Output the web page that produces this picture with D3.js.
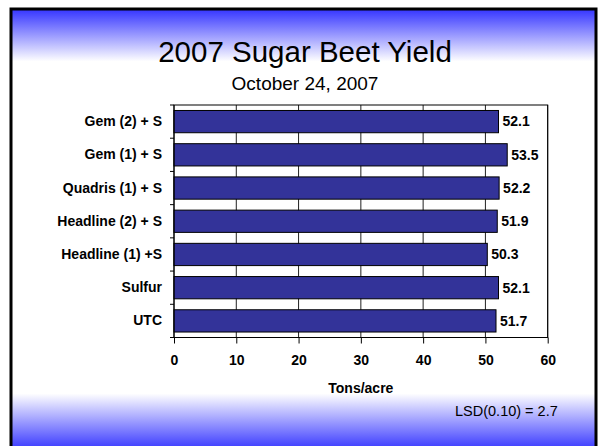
<!DOCTYPE html>
<html>
<head>
<meta charset="utf-8">
<script src="https://cdn.jsdelivr.net/npm/d3@7"></script>
<style>
  body { margin: 0; background: #fff; }
  svg { display: block; font-family: Arial, "Liberation Sans", sans-serif; }
  .axis path { display: none; }
  .axis text { font-size: 14px; font-weight: bold; fill: #000; font-family: Arial, "Liberation Sans", sans-serif; }
</style>
</head>
<body>
<svg id="chart"></svg>
<script>
const categories = ["Gem (2) + S", "Gem (1) + S", "Quadris (1) + S", "Headline (2) + S", "Headline (1) +S", "Sulfur", "UTC"];
const yieldValues = [52.1, 53.5, 52.2, 51.9, 50.3, 52.1, 51.7];
const xTicks = [0, 10, 20, 30, 40, 50, 60];

const settings = {
  width: 600,
  height: 446,
  left: 174,
  right: 547.7,
  top: 105,
  bottom: 337.5,
  barFrac: 0.67
};

const svg = d3.select("#chart")
  .attr("width", settings.width)
  .attr("height", settings.height);

// slide background with blue gradient top and bottom
const grad = svg.append("defs").append("linearGradient")
  .attr("id", "bg")
  .attr("gradientUnits", "userSpaceOnUse")
  .attr("x1", 0).attr("x2", 0)
  .attr("y1", 9).attr("y2", 446);
grad.append("stop").attr("offset", 0).attr("stop-color", "#3434ff");
grad.append("stop").attr("offset", 0.12).attr("stop-color", "#ffffff");
grad.append("stop").attr("offset", 0.88).attr("stop-color", "#ffffff");
grad.append("stop").attr("offset", 1).attr("stop-color", "#4444ff");

svg.append("rect")
  .attr("x", 11).attr("y", 9)
  .attr("width", 585).attr("height", 470)
  .attr("fill", "url(#bg)")
  .attr("stroke", "#000")
  .attr("stroke-width", 3);

// titles
svg.append("text")
  .attr("x", 305).attr("y", 62)
  .attr("text-anchor", "middle")
  .attr("font-size", 29.5)
  .text("2007 Sugar Beet Yield");

svg.append("text")
  .attr("x", 305).attr("y", 90)
  .attr("text-anchor", "middle")
  .attr("font-size", 19)
  .text("October 24, 2007");

const x = d3.scaleLinear().domain([0, 60]).range([settings.left, settings.right]);
const y = d3.scaleBand().domain(categories).range([settings.top, settings.bottom]).padding(0);

// plot area
svg.append("rect")
  .attr("x", settings.left).attr("y", settings.top)
  .attr("width", settings.right - settings.left)
  .attr("height", settings.bottom - settings.top)
  .attr("fill", "#fff");

// vertical gridlines
svg.append("g")
  .selectAll("line")
  .data(xTicks.slice(1))
  .join("line")
  .attr("x1", d => x(d)).attr("x2", d => x(d))
  .attr("y1", settings.top).attr("y2", settings.bottom)
  .attr("stroke", "#222")
  .attr("stroke-width", 1);

// plot border
svg.append("rect")
  .attr("x", settings.left).attr("y", settings.top)
  .attr("width", settings.right - settings.left)
  .attr("height", settings.bottom - settings.top)
  .attr("fill", "none")
  .attr("stroke", "#000")
  .attr("stroke-width", 1);

// bars
const barH = y.step() * settings.barFrac;
const bars = svg.append("g")
  .selectAll("g")
  .data(categories.map((c, i) => ({ name: c, value: yieldValues[i] })))
  .join("g")
  .attr("transform", d => `translate(0,${y(d.name) + (y.step() - barH) / 2})`);

bars.append("rect")
  .attr("x", x(0))
  .attr("width", d => x(d.value) - x(0))
  .attr("height", barH)
  .attr("fill", "#333399")
  .attr("stroke", "#000")
  .attr("stroke-width", 1);

bars.append("text")
  .attr("x", d => x(d.value) + 4)
  .attr("y", barH / 2)
  .attr("dy", "0.35em")
  .attr("font-size", 14)
  .attr("font-weight", "bold")
  .text(d => d.value.toFixed(1));

// x axis
svg.append("g")
  .attr("class", "axis")
  .attr("transform", `translate(0,${settings.bottom})`)
  .call(d3.axisBottom(x).tickValues(xTicks).tickSize(6).tickPadding(12))
  .call(g => g.selectAll("line").attr("stroke", "#000"));

// y axis labels
svg.append("g")
  .attr("class", "axis")
  .attr("transform", `translate(${settings.left},0)`)
  .call(d3.axisLeft(y).tickSize(0).tickPadding(12));

// y tick marks between categories
const boundaries = categories.map(c => y(c)).concat([settings.bottom]);
svg.append("g")
  .selectAll("line")
  .data(boundaries)
  .join("line")
  .attr("x1", settings.left - 4).attr("x2", settings.left)
  .attr("y1", d => d).attr("y2", d => d)
  .attr("stroke", "#000");

svg.append("line")
  .attr("x1", settings.left).attr("x2", settings.left)
  .attr("y1", settings.top).attr("y2", settings.bottom)
  .attr("stroke", "#000");

// axis title
svg.append("text")
  .attr("x", (settings.left + settings.right) / 2)
  .attr("y", 393)
  .attr("text-anchor", "middle")
  .attr("font-size", 14)
  .attr("font-weight", "bold")
  .text("Tons/acre");

svg.append("text")
  .attr("x", 455).attr("y", 416)
  .attr("font-size", 14.5)
  .text("LSD(0.10) = 2.7");
</script>
</body>
</html>
